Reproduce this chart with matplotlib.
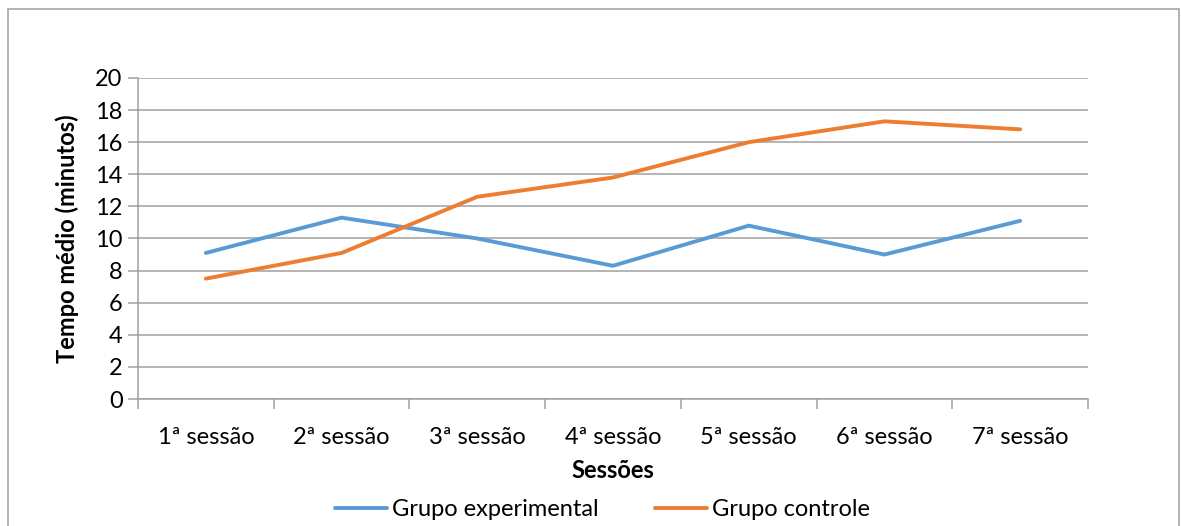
import matplotlib.pyplot as plt
from matplotlib.patches import Rectangle
import numpy as np

sessoes = ["1ª sessão", "2ª sessão", "3ª sessão", "4ª sessão", "5ª sessão", "6ª sessão", "7ª sessão"]
experimental = [9.1, 11.3, 10.0, 8.3, 10.8, 9.0, 11.1]
controle = [7.5, 9.1, 12.6, 13.8, 16.0, 17.3, 16.8]

plt.rcParams['font.family'] = ['Lato', 'DejaVu Sans']
fs = 17

fig = plt.figure(figsize=(11.81, 5.26), dpi=100)
ax = fig.add_axes([138/1181, 1 - 399/526, 950/1181, 321/526])

# chart border
fig.patches.append(Rectangle((8/1181, -0.1), 1171/1181, 1.1 - 9/526, transform=fig.transFigure,
                             fill=False, edgecolor="#A6A6A6", linewidth=1.2))

x = np.arange(len(sessoes))
ax.plot(x, experimental, color="#5B9BD5", linewidth=2.8, label="Grupo experimental", solid_capstyle="round")
ax.plot(x, controle, color="#ED7D31", linewidth=2.8, label="Grupo controle", solid_capstyle="round")

ax.set_xlim(-0.5, len(sessoes) - 0.5)
ax.set_ylim(0, 20)
ax.set_yticks(np.arange(0, 21, 2))
ax.yaxis.grid(True, color="#A0A0A0", linewidth=1.1)
ax.set_axisbelow(True)

ax.set_xticks(x)
ax.set_xticklabels(sessoes)
ax.set_xticks(np.arange(-0.5, len(sessoes)), minor=True)
ax.tick_params(axis="x", which="major", length=0, pad=20, labelsize=fs)
ax.tick_params(axis="x", which="minor", length=7, color="#A0A0A0", width=1.1)
ax.tick_params(axis="y", length=7, color="#A0A0A0", width=1.1, labelsize=fs, pad=4)

for s in ["top", "right"]:
    ax.spines[s].set_visible(False)
for s in ["left", "bottom"]:
    ax.spines[s].set_color("#A0A0A0")
    ax.spines[s].set_linewidth(1.1)

ax.set_xlabel("Sessões", fontsize=fs, fontweight="bold", labelpad=8)
ax.set_ylabel("Tempo médio (minutos)", fontsize=fs, fontweight="bold", labelpad=12)

fig.legend(loc="center", bbox_to_anchor=(0.51, 1 - 510/526), ncol=2, frameon=False,
           fontsize=fs, handlelength=2.2, columnspacing=2.4, handletextpad=0.2)

fig.savefig("out.png", dpi=100)
